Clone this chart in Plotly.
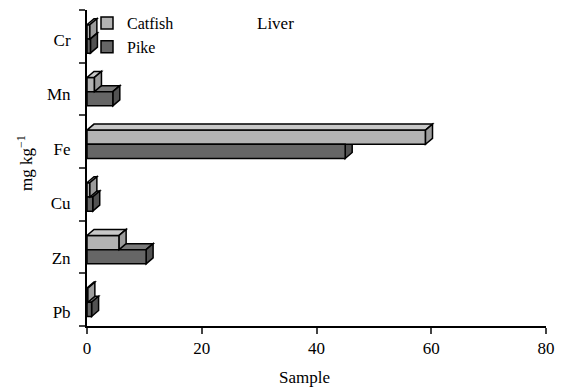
import plotly.graph_objects as go

elements = ["Pb", "Zn", "Cu", "Fe", "Mn", "Cr"]
catfish = [0.15, 5.6, 0.5, 59.0, 1.3, 0.5]
pike = [0.8, 10.3, 1.0, 45.0, 4.5, 0.6]
x_ticks = [0, 20, 40, 60, 80]
series_names = ["Catfish", "Pike"]

FONT = "Liberation Serif"
FS = 17
W, H = 567, 390
ML, MR, MT, MB = 87, 21, 10, 64
plot_w = W - ML - MR
plot_h = H - MT - MB
XR = [0, 80]
YR = [-0.5, len(elements) - 0.5]

# 3-D depth (in pixels) converted to data units
DX = 7 * (XR[1] - XR[0]) / plot_w
DY = 6 * (YR[1] - YR[0]) / plot_h
BW = 0.27
OFF = {"Catfish": -0.05, "Pike": -0.32}
STYLE = {
    "Catfish": dict(front="#b3b3b3", top="#c8c8c8", side="#9c9c9c", layer="above"),
    "Pike": dict(front="#666666", top="#7a7a7a", side="#525252", layer="below"),
}

pos = list(range(len(elements)))
fig = go.Figure()
shapes = []
for name, vals in zip(series_names, [catfish, pike]):
    st = STYLE[name]
    fig.add_trace(go.Bar(
        y=pos, x=vals, orientation="h", name=name,
        width=BW, offset=OFF[name],
        marker=dict(color=st["front"], line=dict(color="black", width=1.5)),
    ))
    for c, v in zip(pos, vals):
        y0 = c + OFF[name]
        y1 = y0 + BW
        top = f"M 0 {y1} L {v} {y1} L {v + DX} {y1 + DY} L {DX} {y1 + DY} Z"
        side = f"M {v} {y0} L {v + DX} {y0 + DY} L {v + DX} {y1 + DY} L {v} {y1} Z"
        for path, col in [(top, st["top"]), (side, st["side"])]:
            shapes.append(dict(type="path", path=path, xref="x", yref="y",
                               fillcolor=col, line=dict(color="black", width=1.5),
                               layer=st["layer"]))

# invisible trace to carry the category label axis
fig.add_trace(go.Scatter(x=[0], y=[0], yaxis="y2", mode="markers",
                         marker=dict(opacity=0), showlegend=False, hoverinfo="skip"))

LAB_BOTTOM_PX, LAB_TOP_PX = 312, 40
lab_step = (LAB_BOTTOM_PX - LAB_TOP_PX) / (len(elements) - 1)
lab_bottom = -(MT + plot_h - LAB_BOTTOM_PX) / lab_step


def py(pix):
    return (MT + plot_h - pix) / plot_h


def px(pix):
    return (pix - ML) / plot_w


fig.update_layout(
    width=W, height=H,
    margin=dict(l=ML, r=MR, t=MT, b=MB, autoexpand=False),
    paper_bgcolor="white", plot_bgcolor="white",
    font=dict(family=FONT, size=FS, color="black"),
    barmode="overlay",
    showlegend=True,
    legend=dict(x=0.0, y=py(6), xanchor="left", yanchor="top",
                bgcolor="rgba(0,0,0,0)", font=dict(family=FONT, size=16, color="black"),
                traceorder="normal", itemwidth=30, tracegroupgap=0),
    xaxis=dict(range=XR, tickvals=x_ticks, ticks="outside", ticklen=6, tickwidth=1.5,
               showline=True, linewidth=1.5, linecolor="black", showgrid=False,
               zeroline=False, automargin=False, tickfont=dict(family=FONT, size=FS)),
    yaxis=dict(range=YR, tickvals=[p - 0.5 for p in pos] + [pos[-1] + 0.5],
               ticks="outside", ticklen=6, tickwidth=1.5, showticklabels=False,
               showline=True, linewidth=1.5, linecolor="black", showgrid=False,
               zeroline=False, automargin=False),
    yaxis2=dict(overlaying="y", side="left", range=[lab_bottom, lab_bottom + plot_h / lab_step],
                tickvals=pos, ticktext=elements, ticks="outside", ticklen=12,
                tickcolor="rgba(0,0,0,0)", showline=False, automargin=False,
                showgrid=False, zeroline=False, tickfont=dict(family=FONT, size=FS)),
    shapes=shapes,
    annotations=[
        dict(text="Liver", x=px(275), y=py(23), xanchor="center", yanchor="middle",
             xref="paper", yref="paper", showarrow=False, font=dict(family=FONT, size=FS)),
        dict(text="Sample", x=px(304), y=py(377), xanchor="center", yanchor="middle",
             xref="paper", yref="paper", showarrow=False, font=dict(family=FONT, size=FS)),
        dict(text="mg kg<sup>−1</sup>", x=px(25), y=py(163), xanchor="center",
             yanchor="middle", textangle=-90,
             xref="paper", yref="paper", showarrow=False, font=dict(family=FONT, size=FS)),
    ],
)

fig.write_html("out.html")
